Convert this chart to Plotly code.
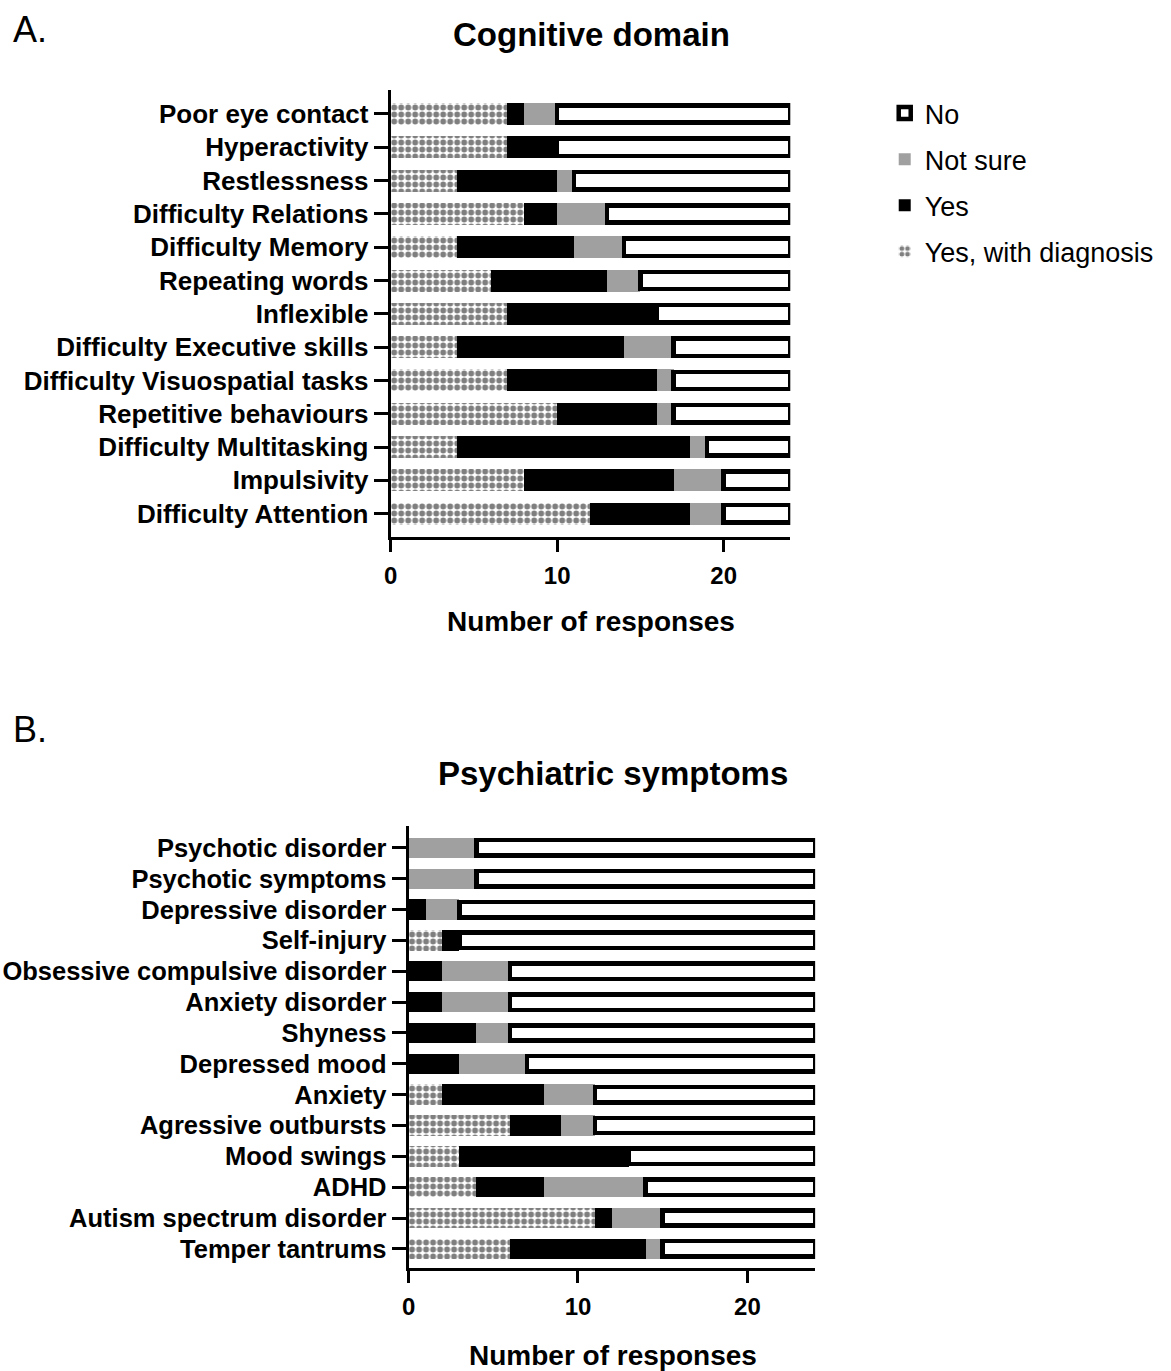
import plotly.graph_objects as go

W, H = 1171, 1371

# ---------------- data ----------------
cog_labels = ["Poor eye contact", "Hyperactivity", "Restlessness", "Difficulty Relations",
              "Difficulty Memory", "Repeating words", "Inflexible", "Difficulty Executive skills",
              "Difficulty Visuospatial tasks", "Repetitive behaviours", "Difficulty Multitasking",
              "Impulsivity", "Difficulty Attention"]
cog_diag    = [7, 7, 4, 8, 4, 6, 7, 4, 7, 10, 4, 8, 12]
cog_yes     = [1, 3, 6, 2, 7, 7, 9, 10, 9, 6, 14, 9, 6]
cog_notsure = [2, 0, 1, 3, 3, 2, 0, 3, 1, 1, 1, 3, 2]
cog_no      = [14, 14, 13, 11, 10, 9, 8, 7, 7, 7, 5, 4, 4]

psy_labels = ["Psychotic disorder", "Psychotic symptoms", "Depressive disorder", "Self-injury",
              "Obsessive compulsive disorder", "Anxiety disorder", "Shyness", "Depressed mood",
              "Anxiety", "Agressive outbursts", "Mood swings", "ADHD",
              "Autism spectrum disorder", "Temper tantrums"]
psy_diag    = [0, 0, 0, 2, 0, 0, 0, 0, 2, 6, 3, 4, 11, 6]
psy_yes     = [0, 0, 1, 1, 2, 2, 4, 3, 6, 3, 10, 4, 1, 8]
psy_notsure = [4, 4, 2, 0, 4, 4, 2, 4, 3, 2, 0, 6, 3, 1]
psy_no      = [20, 20, 21, 21, 18, 18, 18, 17, 13, 13, 11, 10, 9, 9]

x_ticks = [0, 10, 20]
x_max = 24

FONT = "Arial, Liberation Sans, sans-serif"
GRAY = "#a0a0a0"

fig = go.Figure()


def add_panel(labels, diag, yes, ns, no, xa, ya, showlegend, no_width):
    common = dict(y=labels, orientation="h", xaxis=xa, yaxis=ya, cliponaxis=False)
    fig.add_trace(go.Bar(x=diag, name="Yes, with diagnosis", legendgroup="d", legendrank=4,
                         showlegend=showlegend,
                         marker=dict(color="white",
                                     pattern=dict(shape=".", fgcolor="black", bgcolor="white",
                                                  size=7, solidity=0.55, fillmode="overlay"),
                                     line=dict(width=0)), **common))
    fig.add_trace(go.Bar(x=yes, name="Yes", legendgroup="y", legendrank=3,
                         showlegend=showlegend,
                         marker=dict(color="black", line=dict(width=0)), **common))
    fig.add_trace(go.Bar(x=ns, name="Not sure", legendgroup="n", legendrank=2,
                         showlegend=showlegend,
                         marker=dict(color=GRAY, line=dict(width=0)), **common))
    fig.add_trace(go.Bar(x=no, name="No", legendgroup="o", legendrank=1,
                         showlegend=showlegend, width=no_width,
                         marker=dict(color="white", line=dict(width=4.5, color="black")),
                         **common))


add_panel(cog_labels, cog_diag, cog_yes, cog_notsure, cog_no, "x", "y", True, 0.52)
add_panel(psy_labels, psy_diag, psy_yes, psy_notsure, psy_no, "x2", "y2", False, 0.5)


def px_x(p):
    return p / W


def px_y(p):
    return 1 - p / H


axis_common = dict(showline=True, linewidth=3, linecolor="black", ticks="outside",
                   tickwidth=2.5, tickcolor="black", showgrid=False, zeroline=False,
                   color="black")

fig.update_layout(
    width=W, height=H,
    margin=dict(l=0, r=0, t=0, b=0),
    paper_bgcolor="white", plot_bgcolor="white",
    barmode="stack", bargap=0.34,
    font=dict(family=FONT, color="black"),
    xaxis=dict(domain=[px_x(386), px_x(788)], anchor="y", range=[0, x_max],
               tickvals=x_ticks, ticklen=12, ticklabelstandoff=3,
               tickfont=dict(size=24, weight="bold"), **axis_common),
    yaxis=dict(domain=[px_y(537), px_y(90)], anchor="x", type="category",
               categoryorder="array", categoryarray=cog_labels,
               tickvals=cog_labels, ticktext=cog_labels,
               range=[len(cog_labels) - 1 + 0.7, -0.72], ticklen=14,
               tickfont=dict(size=26, weight="bold"), **axis_common),
    xaxis2=dict(domain=[px_x(404), px_x(813)], anchor="y2", range=[0, x_max],
                tickvals=x_ticks, ticklen=12, ticklabelstandoff=3,
                tickfont=dict(size=24, weight="bold"), **axis_common),
    yaxis2=dict(domain=[px_y(1268), px_y(826)], anchor="x2", type="category",
                categoryorder="array", categoryarray=psy_labels,
                tickvals=psy_labels, ticktext=psy_labels,
                range=[len(psy_labels) - 1 + 0.62, -0.71], ticklen=14,
                tickfont=dict(size=25.5, weight="bold"), **axis_common),
    legend=dict(x=px_x(883), y=px_y(89), xanchor="left", yanchor="top",
                traceorder="grouped", tracegroupgap=8,
                font=dict(size=27), bgcolor="rgba(0,0,0,0)"),
    showlegend=True,
)

annots = [
    dict(text="A.", x=px_x(4), y=px_y(29), xanchor="left", font=dict(size=36)),
    dict(text="B.", x=px_x(4), y=px_y(729), xanchor="left", font=dict(size=36)),
    dict(text="<b>Cognitive domain</b>", x=px_x(588), y=px_y(35), font=dict(size=33)),
    dict(text="<b>Psychiatric symptoms</b>", x=px_x(610), y=px_y(773), font=dict(size=33)),
    dict(text="<b>Number of responses</b>", x=px_x(588), y=px_y(621), font=dict(size=28)),
    dict(text="<b>Number of responses</b>", x=px_x(610), y=px_y(1355), font=dict(size=28)),
]
for a in annots:
    fig.add_annotation(xref="paper", yref="paper", showarrow=False, yanchor="middle",
                       xanchor=a.get("xanchor", "center"), x=a["x"], y=a["y"], text=a["text"],
                       font=dict(family=FONT, color="black", size=a["font"]["size"]))

fig.write_html("out.html")
